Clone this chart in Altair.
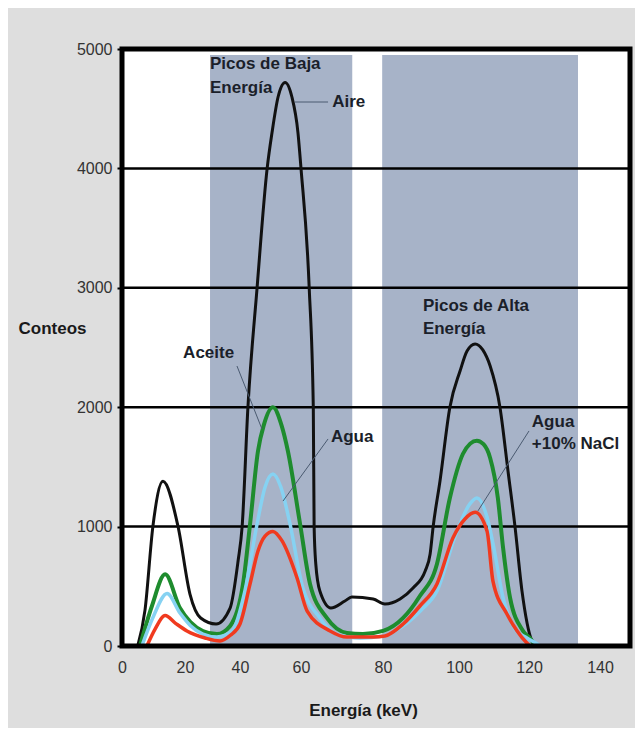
import altair as alt
import pandas as pd

# ---------------- data ----------------
tick_kev = [0, 20, 40, 60, 80, 100, 120, 140]
tick_counts = [0, 1000, 2000, 3000, 4000, 5000]
grid_counts = [1000, 2000, 3000, 4000]
x_domain = [0, 20, 40, 60, 80, 100, 120, 140, 149]
y_domain = [0, 5000]

aire_kev = [5.0, 7.3, 9.8, 13.0, 17.8, 21.8, 25.7, 31.3, 36.4, 39.3, 40.7, 42.6, 45.6, 48.9,
            50.5, 52.5, 54.8, 57.0, 59.0, 60.0, 62.0, 63.0, 63.2, 63.6, 64.6, 67.3, 70.7,
            72.4, 77.6, 80.5, 84.5, 87.9, 91.1, 92.4, 93.2, 95.0, 97.6, 100.3, 102.3,
            104.6, 106.8, 108.9, 111.7, 114.0, 116.0, 118.0, 120.8, 121.7]
aire_counts = [0, 300, 1000, 1380, 1000, 435, 235, 185, 318, 712, 1000, 2000, 3000, 4000,
               4300, 4600, 4720, 4600, 4300, 4000, 3000, 2000, 1000, 690, 460, 318, 377,
               410, 394, 352, 394, 486, 628, 770, 1000, 1382, 2000, 2303, 2470,
               2530, 2480, 2345, 2000, 1466, 1000, 460, 42, 0]

aceite_kev = [5.7, 9.5, 13.7, 18.4, 22.0, 26.5, 31.6, 36.4, 41.0, 43.3, 45.9, 47.8, 50.8,
              53.6, 55.7, 59.7, 62.2, 66.3, 71.2, 75.1, 80.0, 85.3, 89.7, 94.2, 97.6,
              101.1, 103.2, 105.1, 107.0, 108.9, 111.1, 112.6, 114.6, 118.3, 120.9, 121.7]
aceite_counts = [0, 335, 600, 318, 200, 126, 100, 168, 520, 1022, 1633, 1850, 2000,
                 1850, 1633, 1022, 520, 235, 109, 100, 126, 235, 419, 687, 1240,
                 1608, 1695, 1720, 1690, 1575, 1240, 820, 402, 126, 42, 0]

agua_kev = [6.3, 10.0, 14.3, 18.4, 22.0, 26.5, 31.6, 37.1, 41.6, 45.6, 48.2, 50.8, 53.4,
            56.4, 60.2, 64.6, 68.8, 74.4, 80.0, 85.3, 90.0, 94.2, 99.0, 103.1, 105.1,
            108.0, 109.7, 112.6, 116.0, 119.4, 122.3, 123.1]
agua_counts = [0, 250, 440, 276, 170, 100, 75, 126, 460, 1022, 1330, 1440, 1330,
               1022, 520, 235, 100, 67, 84, 168, 300, 460, 921, 1190, 1240,
               1080, 860, 402, 142, 67, 17, 0]

nacl_kev = [7.9, 10.5, 13.7, 17.0, 20.7, 27.3, 32.7, 36.5, 40.0, 43.3, 45.9, 48.2, 50.8,
            53.8, 58.7, 61.5, 67.1, 71.2, 77.6, 80.5, 85.3, 89.7, 94.2, 98.4, 101.7,
            104.6, 108.0, 109.7, 113.7, 116.6, 119.4, 120.3]
nacl_counts = [0, 142, 255, 190, 126, 67, 42, 90, 184, 520, 796, 921, 960,
               880, 570, 293, 126, 75, 75, 84, 184, 335, 520, 905, 1064,
               1120, 963, 544, 268, 126, 25, 0]

band_start = [29.1, 79.8]
band_end = [72.5, 133.8]

label_text = ["Picos de Baja", "Energía", "Aire", "Aceite", "Agua",
              "Picos de Alta", "Energía", "Agua", "+10% NaCl"]
label_kev = [29.1, 29.1, 67.6, 19.4, 67.3, 90.5, 90.5, 120.8, 120.8]
label_counts = [4874, 4673, 4556, 2454, 1750, 2848, 2655, 1876, 1692]

leader_x = [58.0, 38.9, 66.6, 120.0]
leader_y = [4556, 2345, 1734, 1801]
leader_x2 = [66.6, 47.2, 54.1, 105.4]
leader_y2 = [4556, 1817, 1214, 1131]

# ---------------- scales ----------------
FONT = "Liberation Sans"
xscale = alt.Scale(domain=x_domain,
                   range=[0, 63, 118, 179, 261, 337, 407, 478, 508])
yscale = alt.Scale(domain=y_domain)

xaxis = alt.Axis(values=tick_kev, grid=False, ticks=False, domain=False,
                 labelFont=FONT, labelFontSize=16, labelColor="#333333",
                 labelPadding=13, labelFlush=False, format="d",
                 title="Energía (keV)", titleFont=FONT, titleFontSize=17,
                 titleFontWeight="bold", titleColor="#1a1a1a",
                 titleX=241, titleY=64, titleBaseline="middle", titleAlign="center")
yaxis = alt.Axis(values=tick_counts, grid=False, domain=False, format="d",
                 tickSize=5, tickWidth=2, tickColor="black",
                 labelFont=FONT, labelFontSize=16, labelColor="#333333",
                 labelPadding=5,
                 title="Conteos", titleFont=FONT, titleFontSize=17,
                 titleFontWeight="bold", titleColor="#1a1a1a",
                 titleAngle=0, titleX=-104, titleY=279,
                 titleAlign="left", titleBaseline="middle")

# ---------------- layers ----------------
bands = alt.Chart(pd.DataFrame({"a": band_start, "b": band_end,
                                "lo": [0, 0], "hi": [4950, 4950]})).mark_rect(
    color="#a7b3c8").encode(
    x=alt.X("a:Q", scale=xscale, axis=xaxis),
    x2="b:Q",
    y=alt.Y("lo:Q", scale=yscale, axis=yaxis),
    y2="hi:Q")

grid = alt.Chart(pd.DataFrame({"v": grid_counts})).mark_rule(
    color="black", strokeWidth=2.5).encode(y=alt.Y("v:Q", scale=yscale))


def series(kev, counts, color, width):
    df = pd.DataFrame({"kev": kev, "counts": counts})
    return alt.Chart(df).mark_line(color=color, strokeWidth=width,
                                   interpolate="monotone").encode(
        x=alt.X("kev:Q", scale=xscale),
        y=alt.Y("counts:Q", scale=yscale))


aire = series(aire_kev, aire_counts, "#111111", 3)
aceite = series(aceite_kev, aceite_counts, "#1e8c2e", 4)
agua = series(agua_kev, agua_counts, "#86d2f2", 3.5)
nacl = series(nacl_kev, nacl_counts, "#f03a1f", 3.5)

leaders = alt.Chart(pd.DataFrame({"x": leader_x, "y": leader_y,
                                  "x2": leader_x2, "y2": leader_y2})).mark_rule(
    color="#4a5a70", strokeWidth=1).encode(
    x=alt.X("x:Q", scale=xscale), y=alt.Y("y:Q", scale=yscale),
    x2="x2:Q", y2="y2:Q")

labels = alt.Chart(pd.DataFrame({"t": label_text, "x": label_kev,
                                 "y": label_counts})).mark_text(
    font=FONT, fontSize=17, fontWeight="bold", color="#1b1f2a",
    align="left", baseline="middle").encode(
    x=alt.X("x:Q", scale=xscale), y=alt.Y("y:Q", scale=yscale), text="t:N")

frame = alt.Chart(pd.DataFrame({"x0": [x_domain[0]], "x1": [x_domain[-1]],
                                "y0": [y_domain[0]], "y1": [y_domain[-1]]})).mark_rect(
    filled=False, stroke="black", strokeWidth=5).encode(
    x=alt.X("x0:Q", scale=xscale), x2="x1:Q",
    y=alt.Y("y0:Q", scale=yscale), y2="y1:Q")

chart = alt.layer(bands, grid, aire, aceite, agua, nacl, leaders, labels, frame).properties(
    width=508, height=597,
    padding={"left": 114, "top": 41, "right": 5, "bottom": 82},
    autosize=alt.AutoSizeParams(type="none"),
).configure(background="#dedede").configure_view(
    strokeWidth=0, fill="white")

chart.save("out.html", embed_options={"renderer": "svg", "actions": False})
